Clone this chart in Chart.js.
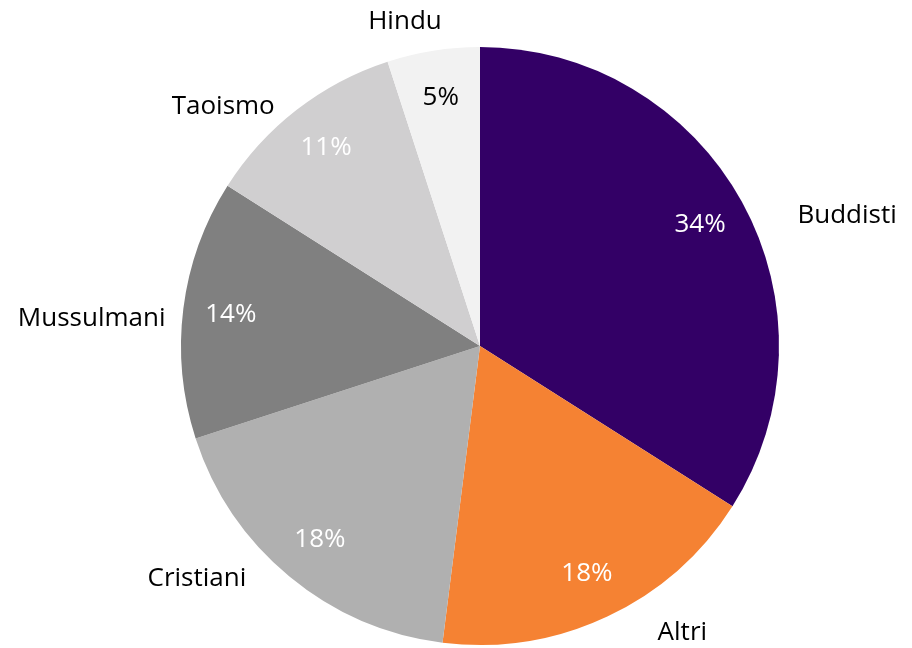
<!DOCTYPE html>
<html>
<head>
<meta charset="utf-8">
<script src="https://cdn.jsdelivr.net/npm/chart.js@4"></script>
<style>
  html, body { margin: 0; padding: 0; background: #fff; }
  #wrap { width: 912px; height: 648px; }
</style>
</head>
<body>
<div id="wrap"><canvas id="myChart" width="912" height="648"></canvas></div>
<script>
// chart data
const categories = ['Buddisti', 'Altri', 'Cristiani', 'Mussulmani', 'Taoismo', 'Hindu'];
const values = [34, 18, 18, 14, 11, 5];
const sliceColors = ['#330066', '#F58233', '#B0B0B0', '#808080', '#D0CFD0', '#F2F2F2'];
const valueColors = ['#fff', '#fff', '#fff', '#fff', '#fff', '#000'];

const FONT = '26px "Open Sans", "Liberation Sans", sans-serif';

// draws percent labels inside and category names outside
const labelPlugin = {
  id: 'pieLabels',
  afterDatasetsDraw(chart) {
    const ctx = chart.ctx;
    const meta = chart.getDatasetMeta(0);
    const total = values.reduce((a, b) => a + b, 0);
    // excel moved its outside labels a bit, these shift ours to match
    const nudge = [[70, 33], [58, -20], [-67, -29], [-52, 15], [-49, 28], [-22, 10]];
    ctx.save();
    ctx.font = FONT;
    ctx.textAlign = 'center';
    ctx.textBaseline = 'middle';
    meta.data.forEach(function(arc, i) {
      const mid = (arc.startAngle + arc.endAngle) / 2;
      const r = arc.outerRadius;
      const cos = Math.cos(mid), sin = Math.sin(mid);

      // percent inside
      ctx.fillStyle = valueColors[i];
      ctx.fillText(Math.round(values[i] / total * 100) + '%', arc.x + cos * r * 0.84, arc.y + sin * r * 0.84);

      // name outside
      const x = arc.x + cos * (r + 40) + nudge[i][0];
      const y = arc.y + sin * (r + 40) + nudge[i][1];
      ctx.fillStyle = '#000';
      ctx.fillText(categories[i], x, y);
    });
    ctx.restore();
  }
};

new Chart(document.getElementById('myChart'), {
  type: 'pie',
  data: {
    labels: categories,
    datasets: [{
      data: values,
      backgroundColor: sliceColors,
      borderWidth: 0
    }]
  },
  options: {
    responsive: false,
    animation: false,
    layout: { padding: { left: 180, right: 132, top: 47, bottom: 3 } },
    plugins: {
      legend: { display: false },
      tooltip: { enabled: false }
    }
  },
  plugins: [labelPlugin]
});
</script>
</body>
</html>
